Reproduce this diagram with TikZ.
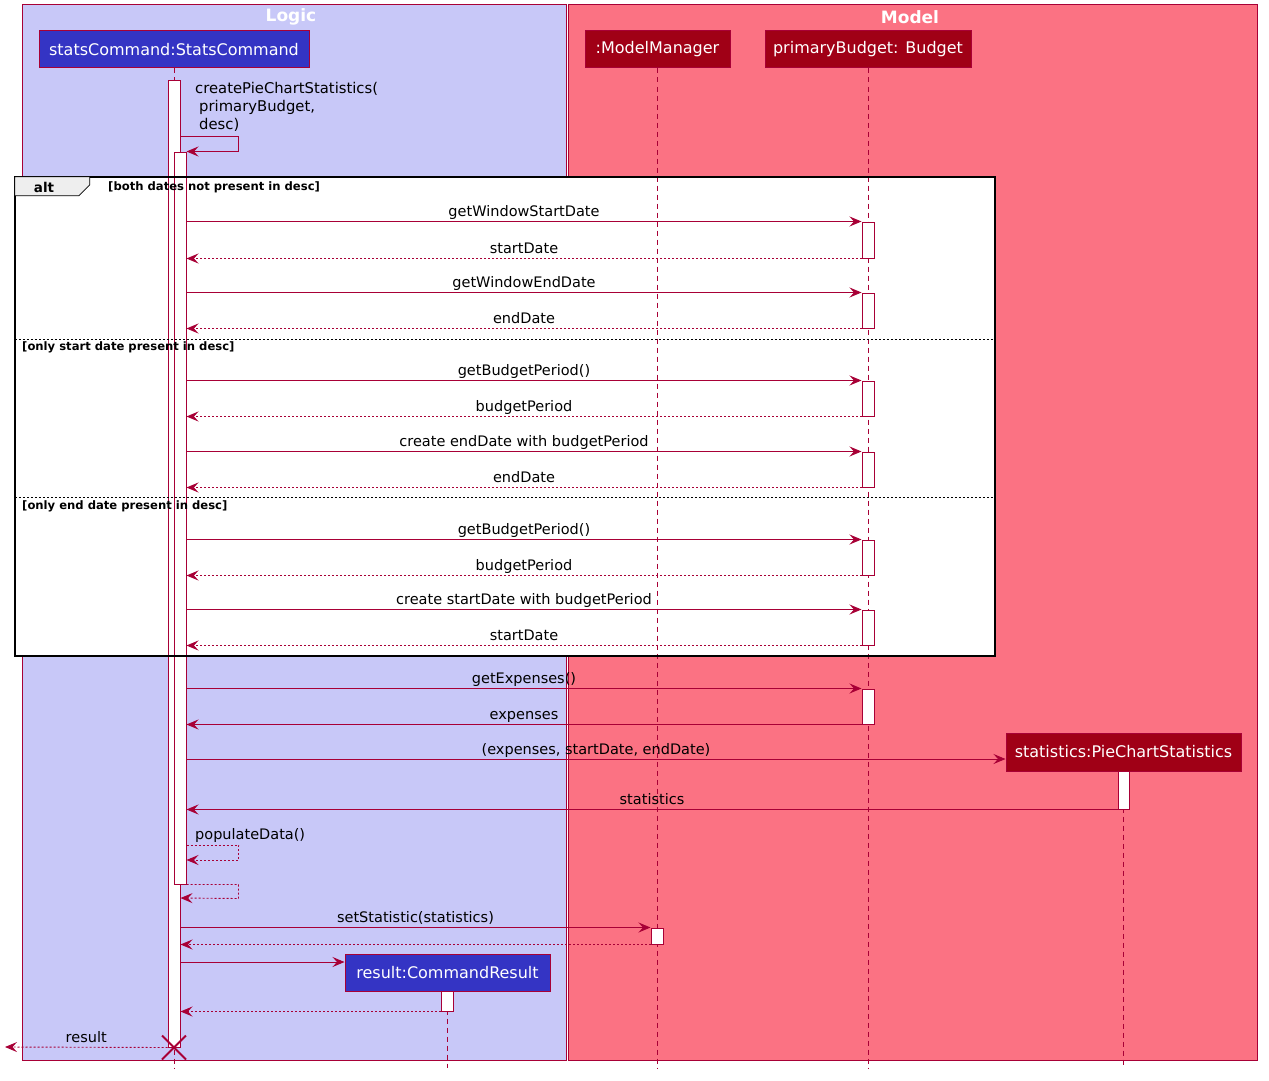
\documentclass[tikz,border=0pt]{standalone}
\usepackage{fontspec}
\setmainfont{DejaVu Sans}
\usetikzlibrary{arrows.meta,calc}
\definecolor{crim}{RGB}{168,0,54}
\definecolor{logicbg}{RGB}{200,200,248}
\definecolor{modelbg}{RGB}{251,114,131}
\definecolor{blueobj}{RGB}{52,52,196}
\definecolor{redobj}{RGB}{160,0,22}
\definecolor{tabgray}{RGB}{238,238,238}
\tikzset{
  pkg/.style={draw=crim, line width=1pt},
  pkgtitle/.style={text=white, font=\fontsize{17}{19}\selectfont\bfseries},
  obj/.style={draw=crim, line width=1pt, text=white, minimum height=37pt, inner sep=0pt, font=\fontsize{16}{18}\selectfont},
  lifeline/.style={draw=crim, line width=0.8pt, dash pattern=on 5pt off 4pt},
  actbar/.style={draw=crim, fill=white, line width=1pt, minimum width=12pt, inner sep=0pt},
  msg/.style={draw=crim, line width=0.9pt, -{Stealth[length=12pt,width=10pt,inset=4.5pt]}},
  ret/.style={msg, dash pattern=on 2pt off 2pt},
  lbl/.style={font=\fontsize{14.5}{16}\selectfont, text=black, anchor=base, inner sep=0pt},
  guard/.style={font=\fontsize{11.6}{13}\selectfont\bfseries, text=black, anchor=west, inner sep=0pt},
}
\begin{document}
\begin{tikzpicture}[x=1pt,y=-1pt]
\useasboundingbox (0,0) rectangle (1269,1081);
% packages
\node[pkg, fill=logicbg, minimum width=544pt, minimum height=1056pt, anchor=north west] (logic) at (22,4) {};
\node[pkg, fill=modelbg, minimum width=689pt, minimum height=1056pt, anchor=north west] (model) at (568,4) {};
\node[pkgtitle] (logict) at (291,17) {Logic};
\node[pkgtitle] (modelt) at (910,17) {Model};
% alt frame background
\node[fill=white, minimum width=980pt, minimum height=479pt, inner sep=0pt] (alt) at (505,416.5) {};
% participants
\node[obj, fill=blueobj, minimum width=270pt] (sc) at (174,49.5) {statsCommand:StatsCommand};
\node[obj, fill=redobj, minimum width=145pt] (mm) at (657.5,49.5) {:ModelManager};
\node[obj, fill=redobj, minimum width=206pt] (pb) at (868,49.5) {primaryBudget: Budget};
\node[obj, fill=redobj, minimum width=235pt, minimum height=38pt] (st) at (1123.5,752) {statistics:PieChartStatistics};
\node[obj, fill=blueobj, minimum width=205pt] (rs) at (447.5,972.5) {result:CommandResult};
% lifeline ends
\coordinate (scend) at (174,1068);
\coordinate (mmend) at (657.5,1068);
\coordinate (pbend) at (868,1068);
\coordinate (stend) at (1123.5,1068);
\coordinate (rsend) at (447.5,1068);
\draw[lifeline] (sc.south) -- (scend);
\draw[lifeline] (mm.south) -- (mmend);
\draw[lifeline] (pb.south) -- (pbend);
\draw[lifeline] (st.south) -- (stend);
\draw[lifeline] (rs.south) -- (rsend);
% activation bars
\node[actbar, minimum height=966pt] (sc1) at (174,564) {};
\node[actbar, minimum height=732pt] (sc2) at (180,518) {};
\node[actbar, minimum height=36pt] (b1) at (868,240) {};
\node[actbar, minimum height=35pt] (b2) at (868,310.5) {};
\node[actbar, minimum height=35pt] (b3) at (868,398.5) {};
\node[actbar, minimum height=35pt] (b4) at (868,469.5) {};
\node[actbar, minimum height=35pt] (b5) at (868,557.5) {};
\node[actbar, minimum height=35pt] (b6) at (868,627.5) {};
\node[actbar, minimum height=35pt] (b7) at (868,706.5) {};
\node[actbar, minimum height=38pt, minimum width=11pt] (stb) at (1123.5,790) {};
\node[actbar, minimum height=16pt] (mmb) at (657,936) {};
\node[actbar, minimum height=20pt] (rsb) at (447,1001) {};
% alt frame border and tab
\draw[black, line width=2pt] (alt.north west) rectangle (alt.south east);
\draw[black, line width=0.8pt, fill=tabgray] (alt.north west) -- ++(75,0) -- ++(0,8) -- ++(-11,11) -- ++(-64,0) -- cycle;
\node[font=\fontsize{13.5}{15}\selectfont\bfseries, inner sep=0pt] (altlbl) at (44,187) {alt};
\node[guard] (g1) at (108,187) {[both dates not present in desc]};
\draw[black, line width=0.8pt, dash pattern=on 2pt off 2pt] (alt.west |- 0,339) -- (alt.east |- 0,339);
\draw[black, line width=0.8pt, dash pattern=on 2pt off 2pt] (alt.west |- 0,497) -- (alt.east |- 0,497);
\node[guard] (g2) at (22,347.5) {[only start date present in desc]};
\node[guard] (g3) at (22,506.5) {[only end date present in desc]};
% self call createPieChartStatistics
\draw[msg] ([yshift=15pt]sc1.east |- sc2.north) -- ++(58,0) -- ++(0,15) -- (sc2.north east);
\node[font=\fontsize{14.8}{18}\selectfont, align=left, anchor=north west, inner sep=0pt] (cpl) at (195,82) {createPieChartStatistics(\\\hspace*{4pt}primaryBudget,\\\hspace*{4pt}desc)};
% alt messages
\draw[msg] (sc2.east |- b1.north) -- node[lbl, midway, yshift=5pt] {getWindowStartDate} (b1.north west);
\draw[ret] (b1.south west) -- node[lbl, midway, yshift=5pt] {startDate} (sc2.east |- b1.south);
\draw[msg] (sc2.east |- b2.north) -- node[lbl, midway, yshift=5pt] {getWindowEndDate} (b2.north west);
\draw[ret] (b2.south west) -- node[lbl, midway, yshift=5pt] {endDate} (sc2.east |- b2.south);
\draw[msg] (sc2.east |- b3.north) -- node[lbl, midway, yshift=5pt] {getBudgetPeriod()} (b3.north west);
\draw[ret] (b3.south west) -- node[lbl, midway, yshift=5pt] {budgetPeriod} (sc2.east |- b3.south);
\draw[msg] (sc2.east |- b4.north) -- node[lbl, midway, yshift=5pt] {create endDate with budgetPeriod} (b4.north west);
\draw[ret] (b4.south west) -- node[lbl, midway, yshift=5pt] {endDate} (sc2.east |- b4.south);
\draw[msg] (sc2.east |- b5.north) -- node[lbl, midway, yshift=5pt] {getBudgetPeriod()} (b5.north west);
\draw[ret] (b5.south west) -- node[lbl, midway, yshift=5pt] {budgetPeriod} (sc2.east |- b5.south);
\draw[msg] (sc2.east |- b6.north) -- node[lbl, midway, yshift=5pt] {create startDate with budgetPeriod} (b6.north west);
\draw[ret] (b6.south west) -- node[lbl, midway, yshift=5pt] {startDate} (sc2.east |- b6.south);
% after alt
\draw[msg] (sc2.east |- b7.north) -- node[lbl, midway, yshift=5pt] {getExpenses()} (b7.north west);
\draw[msg] (b7.south west) -- node[lbl, midway, yshift=5pt] {expenses} (sc2.east |- b7.south);
\draw[msg] (sc2.east |- 0,759) -- node[lbl, midway, yshift=5pt] {(expenses, startDate, endDate)} (st.west |- 0,759);
\draw[msg] (stb.south west) -- node[lbl, midway, yshift=5pt] {statistics} (sc2.east |- stb.south);
% populateData self call
\draw[ret] (sc2.east |- 0,845) -- ++(52,0) -- ++(0,15) -- (sc2.east |- 0,860);
\node[font=\fontsize{14.5}{16}\selectfont, anchor=base west, inner sep=0pt] (pdl) at (195,839) {populateData()};
% return of inner activation
\draw[ret] (sc2.south east) -- ++(52,0) -- ++(0,14) -- (sc1.east |- 0,898);
% setStatistic
\draw[msg] (sc1.east |- mmb.north) -- node[lbl, midway, yshift=5pt] {setStatistic(statistics)} (mmb.north west);
\draw[ret] (mmb.south west) -- (sc1.east |- mmb.south);
% create result
\draw[msg] (sc1.east |- 0,962) -- (rs.west |- 0,962);
\draw[ret] (rsb.south west) -- (sc1.east |- rsb.south);
% result return
\coordinate (outside) at (5,1047);
\draw[ret] (sc1.south west) -- node[lbl, midway, yshift=5pt] {result} (outside);
% destroy
\draw[crim, line width=1.8pt] ($(sc1.south)+(-12,-12)$) -- ($(sc1.south)+(12,12)$);
\draw[crim, line width=1.8pt] ($(sc1.south)+(-12,12)$) -- ($(sc1.south)+(12,-12)$);
\end{tikzpicture}
\end{document}
